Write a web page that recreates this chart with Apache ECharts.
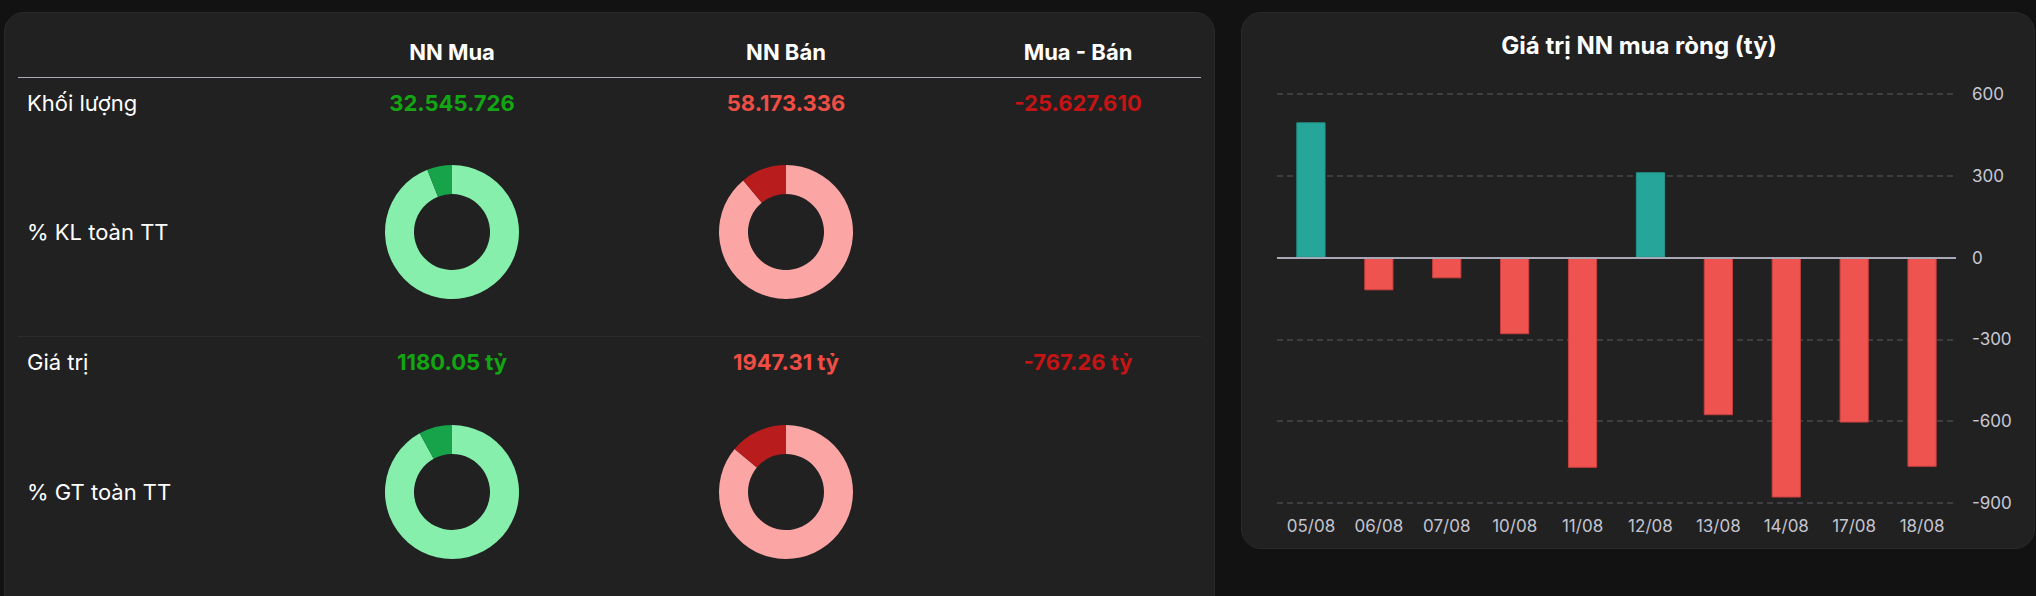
<!DOCTYPE html>
<html>
<head>
<meta charset="utf-8">
<script src="https://cdn.jsdelivr.net/npm/echarts@6/dist/echarts.min.js"></script>
<style>
html,body{margin:0;padding:0;background:#121212;width:2036px;height:596px;overflow:hidden;font-family:Inter,"Noto Sans",sans-serif;}
.panel{position:absolute;background:#212121;border:1px solid #2a2a2a;border-radius:20px;box-sizing:border-box;}
.t{position:absolute;transform:translate(-50%,-50%);white-space:nowrap;font-size:22px;line-height:1;z-index:3;}
.l{position:absolute;transform:translateY(-50%);white-space:nowrap;font-size:22px;color:#fff;line-height:1;z-index:3;}
.hline{position:absolute;height:0;z-index:3;}
#chart{position:absolute;left:0;top:0;width:2036px;height:596px;z-index:2;}
</style>
</head>
<body>
<div class="panel" style="left:4px;top:12px;width:1211px;height:620px;"></div>
<div class="panel" style="left:1241px;top:12px;width:794px;height:537px;"></div>
<div id="chart"></div>
<div id="texts"></div>
<script>
// ---- data ----
const columns = ['NN Mua', 'NN Bán', 'Mua - Bán'];
const rowLabels = ['Khối lượng', '% KL toàn TT', 'Giá trị', '% GT toàn TT'];
const volumes = [32545726, 58173336];      // buy, sell (shares)
const tradeValues = [1180.05, 1947.31];    // buy, sell (tỷ)
const volSharePct = [6.0, 11.0];           // % of market volume (buy, sell)
const valSharePct = [8.0, 13.9];           // % of market value (buy, sell)
const chartTitle = 'Giá trị NN mua ròng (tỷ)';
const dates = ['05/08', '06/08', '07/08', '10/08', '11/08', '12/08', '13/08', '14/08', '17/08', '18/08'];
const netValues = [496, -120, -76, -281, -771, 313, -578, -880, -605, -767.26];
const yMin = -900, yMax = 600, yStep = 300;

// ---- helpers ----
function fmtInt(n) {
  const s = String(Math.abs(Math.round(n))).replace(/\B(?=(\d{3})+(?!\d))/g, '.');
  return (n < 0 ? '-' : '') + s;
}
function fmtTy(n) { return n.toFixed(2) + ' tỷ'; }

const colX = [452, 786, 1078];
const rowY = [103, 232, 362, 492];
const headY = 52;
const T = document.getElementById('texts');
function addText(cls, txt, x, y, style) {
  const d = document.createElement('div');
  d.className = cls;
  d.textContent = txt;
  d.style.left = x + 'px';
  d.style.top = y + 'px';
  Object.assign(d.style, style || {});
  T.appendChild(d);
}
columns.forEach((c, i) => addText('t', c, colX[i], headY, {color: '#fff', fontWeight: '700'}));
rowLabels.forEach((r, i) => addText('l', r, 27, rowY[i]));
const greenTxt = '#12a612', redTxt = '#f04e44', darkRedTxt = '#c41414';
const volDiff = volumes[0] - volumes[1];
const valDiff = tradeValues[0] - tradeValues[1];
addText('t', fmtInt(volumes[0]), colX[0], rowY[0], {color: greenTxt, fontWeight: '700'});
addText('t', fmtInt(volumes[1]), colX[1], rowY[0], {color: redTxt, fontWeight: '700'});
addText('t', fmtInt(volDiff), colX[2], rowY[0], {color: darkRedTxt, fontWeight: '700'});
addText('t', fmtTy(tradeValues[0]), colX[0], rowY[2], {color: greenTxt, fontWeight: '700'});
addText('t', fmtTy(tradeValues[1]), colX[1], rowY[2], {color: redTxt, fontWeight: '700'});
addText('t', fmtTy(valDiff), colX[2], rowY[2], {color: darkRedTxt, fontWeight: '700'});
addText('t', chartTitle, 1639, 46, {color: '#fff', fontWeight: '700', fontSize: '24px'});

function hline(x1, x2, y, color, w) {
  const d = document.createElement('div');
  d.className = 'hline';
  d.style.left = x1 + 'px';
  d.style.top = y + 'px';
  d.style.width = (x2 - x1) + 'px';
  d.style.borderTop = w + 'px solid ' + color;
  T.appendChild(d);
}
hline(18, 1201, 76.5, '#a9adb8', 1.5);
hline(18, 1201, 336, '#2c2c2c', 1);

// ---- chart ----
const chart = echarts.init(document.getElementById('chart'), null, {renderer: 'svg'});
function donut(center, share, light, dark) {
  return {
    type: 'pie', center: center, radius: [38, 67], startAngle: 90, clockwise: true,
    silent: true, animation: false, label: {show: false}, labelLine: {show: false},
    itemStyle: {borderWidth: 0},
    data: [
      {value: 100 - share, itemStyle: {color: light}},
      {value: share, itemStyle: {color: dark}}
    ]
  };
}
const lightG = '#86efac', darkG = '#16a34a', lightR = '#fca5a5', darkR = '#b91c1c';
const barData = netValues.map(v => ({
  value: v,
  itemStyle: v >= 0
    ? {color: '#26a69a', borderColor: '#22968b', borderWidth: 1}
    : {color: '#ef5350', borderColor: '#c8403e', borderWidth: 1}
}));
chart.setOption({
  backgroundColor: 'transparent',
  animation: false,
  grid: {left: 1277, right: 80, top: 94, bottom: 93},
  xAxis: {
    type: 'category', data: dates,
    axisLine: {show: false}, axisTick: {show: false},
    axisLabel: {color: '#c4c4d0', fontSize: 17, margin: 14, fontFamily: 'Inter'},
    splitLine: {show: false}
  },
  yAxis: {
    type: 'value', position: 'right', min: yMin, max: yMax, interval: yStep,
    axisLine: {show: false}, axisTick: {show: false},
    axisLabel: {color: '#c8c8d4', fontSize: 17, margin: 16, fontFamily: 'Inter'},
    splitLine: {show: true, lineStyle: {color: '#48484e', width: 1.5, type: [6, 4]}}
  },
  series: [
    {
      type: 'bar', data: barData, barWidth: '43%',
      markLine: {
        silent: true, symbol: 'none', animation: false,
        label: {show: false},
        lineStyle: {color: '#a8a8b6', width: 2, type: 'solid'},
        data: [{yAxis: 0}]
      }
    },
    donut([452, 232], volSharePct[0], lightG, darkG),
    donut([786, 232], volSharePct[1], lightR, darkR),
    donut([452, 492], valSharePct[0], lightG, darkG),
    donut([786, 492], valSharePct[1], lightR, darkR)
  ]
});
</script>
</body>
</html>
